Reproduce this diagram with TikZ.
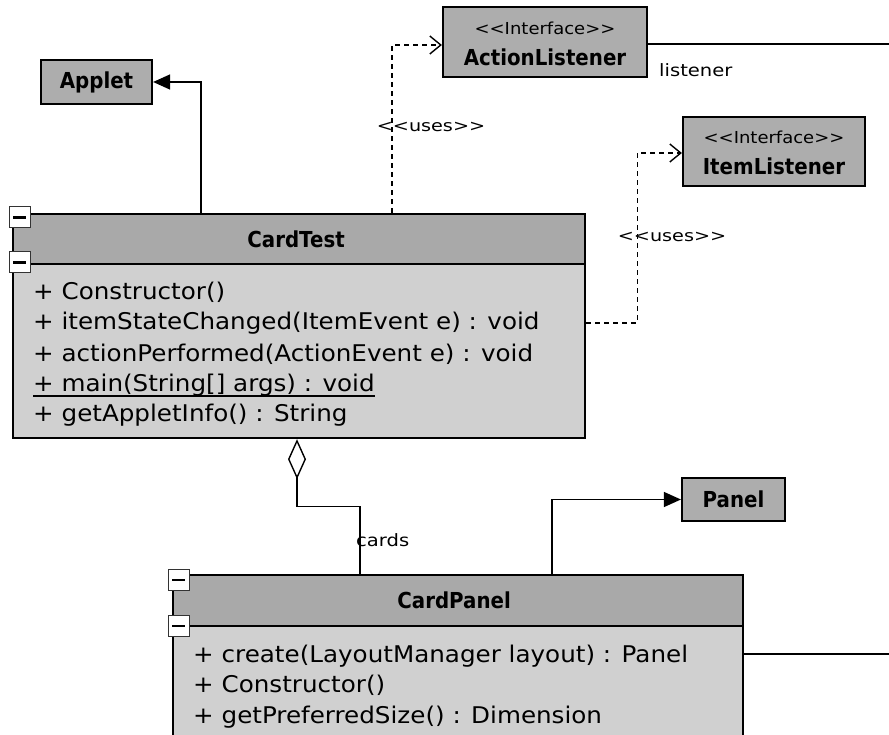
\documentclass[tikz,border=0pt]{standalone}
\usepackage{fontspec}
\setmainfont{DejaVu Sans}
\newfontfamily\memberfont[FakeStretch=1.07]{DejaVu Sans}
\newfontfamily\titlefont[FakeStretch=0.9]{DejaVu Sans}
\newfontfamily\stereofont[FakeStretch=1.09]{DejaVu Sans}
\newfontfamily\smallfont[FakeStretch=1.2]{DejaVu Sans}
\newfontfamily\rolefont[FakeStretch=1.15]{DejaVu Sans}
\usetikzlibrary{arrows.meta,calc}

\definecolor{headgray}{HTML}{A9A9A9}
\definecolor{bodygray}{HTML}{D0D0D0}
\definecolor{classgray}{HTML}{ADADAD}

% guillemet-free angle pairs (a kern keeps the font mapping from joining them)
\newcommand\ltlt{<\kern0pt<}
\newcommand\gtgt{>\kern0pt>}

\tikzset{
  simplebox/.style={draw=black, line width=2.2pt, fill=classgray, inner sep=0pt},
  headbox/.style={draw=black, line width=2.2pt, fill=headgray, inner sep=0pt, anchor=north west},
  bodybox/.style={draw=black, line width=2.2pt, fill=bodygray, inner sep=0pt, anchor=north west},
  collapse/.style={draw=black!80, line width=1pt, fill=white, minimum size=21pt, inner sep=0pt},
  titletext/.style={font=\titlefont\bfseries\fontsize{22}{26}\selectfont, inner sep=0pt},
  stereotext/.style={font=\stereofont\fontsize{16.5}{19}\selectfont, inner sep=0pt},
  usestext/.style={font=\smallfont\fontsize{16}{19}\selectfont, inner sep=0pt},
  labeltext/.style={font=\rolefont\fontsize{17}{20}\selectfont, inner sep=0pt, anchor=west},
  member/.style={font=\memberfont\fontsize{23}{27}\selectfont, inner sep=0pt, anchor=base west},
  inherit/.style={draw, line width=1.4pt, -{Triangle[length=17pt,width=15pt]}},
  dep/.style={draw, line width=1.4pt, dash pattern=on 5pt off 4pt,
              -{Straight Barb[length=11pt,width=18pt]}},
  assoc/.style={draw, line width=1.4pt},
  aggr/.style={draw, line width=1.4pt, {Diamond[open,length=40pt,width=18pt,fill=white]}-},
}

\begin{document}
\begin{tikzpicture}[x=1pt,y=-1pt]
\useasboundingbox (0,0) rectangle (889,735);

% ---- simple classes ----
\node[simplebox, minimum width=111pt, minimum height=44pt] (applet) at (96.5,82) {};
\node[titletext] (applet-nm) at (applet.center) {Applet};
\node[simplebox, minimum width=103pt, minimum height=43pt] (panel) at (733.5,499.5) {};
\node[titletext] (panel-nm) at (panel.center) {Panel};

\node[simplebox, minimum width=204pt, minimum height=70pt] (actl) at (545,42) {};
\node[stereotext] (actl-st) at ($(actl.center)+(0,-14)$) {\ltlt Interface\gtgt};
\node[titletext] (actl-nm) at ($(actl.center)+(0,15)$) {ActionListener};

\node[simplebox, minimum width=182pt, minimum height=69pt] (itl) at (774,151.5) {};
\node[stereotext] (itl-st) at ($(itl.center)+(0,-14)$) {\ltlt Interface\gtgt};
\node[titletext] (itl-nm) at ($(itl.center)+(0,15)$) {ItemListener};

% ---- CardTest ----
\node[headbox, minimum width=572pt, minimum height=50pt] (cthead) at (12,213) {};
\node[bodybox, minimum width=572pt, minimum height=174pt] (ctbody) at (12,263) {};
\node[titletext] (ct-title) at ($(cthead.center)+(-3,0)$) {CardTest};
\node[member] (ct-m1) at (33,300) {+ Constructor()};
\node[member] (ct-m2) at (33,330) {+ itemStateChanged(ItemEvent e) : void};
\node[member] (ct-m3) at (33,361) {+ actionPerformed(ActionEvent e) : void};
\node[member] (ct-m4) at (33,391) {+ main(String[] args) : void};
\node[member] (ct-m5) at (33,421) {+ getAppletInfo() : String};
\draw[line width=1.4pt] ([yshift=-5pt]ct-m4.base west) -- ([yshift=-5pt]ct-m4.base east);
\node[collapse] (ct-c1) at (19.5,217.5) {\rule{13pt}{2.5pt}};
\node[collapse] (ct-c2) at (19.5,262.5) {\rule{13pt}{2.5pt}};

% ---- CardPanel ----
\node[headbox, minimum width=570pt, minimum height=51pt] (cphead) at (172,574) {};
\node[bodybox, minimum width=570pt, minimum height=114pt] (cpbody) at (172,625) {};
\node[titletext] (cp-title) at ($(cphead.center)+(-4,0)$) {CardPanel};
\node[member] (cp-m1) at (193,662) {+ create(LayoutManager layout) : Panel};
\node[member] (cp-m2) at (193,692) {+ Constructor()};
\node[member] (cp-m3) at (193,723) {+ getPreferredSize() : Dimension};
\node[collapse] (cp-c1) at (178.5,580) {\rule{13pt}{2.5pt}};
\node[collapse] (cp-c2) at (178.5,626) {\rule{13pt}{2.5pt}};

% ---- relations ----
\draw[inherit] ([xshift=189pt]cthead.north west) |- (applet);
\draw[inherit] ([xshift=380pt]cphead.north west) |- (panel);

\draw[dep] ([xshift=380pt]cthead.north west) |- ([yshift=-3pt]actl.west);
\draw[dep] ([yshift=-60pt]ctbody.north east) -- ++(51,0) |- ([yshift=-1.5pt]itl.west);

\draw[aggr] ([xshift=285pt]ctbody.south west) -- ++(0,67) -| ([xshift=188pt]cphead.north west);

\coordinate (edgeA) at (889,44);
\coordinate (edgeB) at (889,654);
\draw[assoc] (actl.east |- edgeA) -- (edgeA);
\draw[assoc] (cpbody.east |- edgeB) -- (edgeB);

% ---- relation labels ----
\node[usestext] (uses1) at (431,127) {\ltlt uses\gtgt};
\node[usestext] (uses2) at (672,237) {\ltlt uses\gtgt};
\node[labeltext] (lbl-listener) at (659,70) {listener};
\node[labeltext] (lbl-cards) at (356,540) {cards};
\end{tikzpicture}
\end{document}
